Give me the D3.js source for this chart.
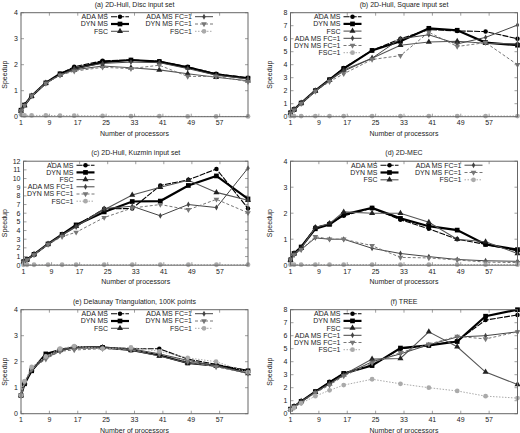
<!DOCTYPE html>
<html><head><meta charset="utf-8">
<script src="https://cdn.jsdelivr.net/npm/d3@7/dist/d3.min.js"></script>
<style>body{margin:0;background:#fff}svg{display:block}text{font-family:"Liberation Sans",Arial,sans-serif;fill:#222}</style>
</head><body><svg id="c" width="520" height="433"></svg>
<script>
// ---- data ----
const processors = [1, 2, 4, 8, 12, 16, 24, 32, 40, 48, 56, 65];
const xTickLabels = [1, 9, 17, 25, 33, 41, 49, 57];
const seriesNames = ["ADA MS", "DYN MS", "FSC", "ADA MS FC=1", "DYN MS FC=1", "FSC=1"];
const panelTitles = ["(a) 2D-Hull, Disc input set", "(b) 2D-Hull, Square input set",
  "(c) 2D-Hull, Kuzmin input set", "(d) 2D-MEC",
  "(e) Delaunay Triangulation, 100K points", "(f) TREE"];
const panelYMax = [4, 8, 12, 4, 4, 8];

const discSpeedup = [
  [0.25, 0.45, 0.8, 1.3, 1.65, 1.92, 2.15, 2.18, 2.13, 1.92, 1.65, 1.5],
  [0.25, 0.45, 0.8, 1.3, 1.65, 1.85, 2.1, 2.18, 2.12, 1.9, 1.63, 1.48],
  [0.22, 0.43, 0.8, 1.3, 1.6, 1.8, 1.95, 1.88, 1.8, 1.65, 1.52, 1.38],
  [0.25, 0.45, 0.8, 1.3, 1.6, 1.85, 2.05, 2.1, 2.08, 1.85, 1.6, 1.45],
  [0.22, 0.43, 0.8, 1.28, 1.6, 1.75, 1.9, 1.85, 1.98, 1.55, 1.55, 1.35],
  [0.08, 0.05, 0.05, 0.05, 0.04, 0.04, 0.03, 0.02, 0.02, 0.01, 0.01, 0.01]
];
const squareSpeedup = [
  [0.3, 0.55, 1.05, 2.0, 2.85, 3.75, 5.1, 6.0, 6.7, 6.6, 6.55, 6.0],
  [0.3, 0.55, 1.05, 2.0, 2.85, 3.7, 5.1, 5.8, 6.8, 6.65, 5.7, 5.5],
  [0.3, 0.55, 1.05, 2.0, 2.8, 3.6, 4.5, 5.5, 5.75, 5.8, 5.65, 5.6],
  [0.3, 0.55, 1.05, 2.0, 2.8, 3.5, 4.5, 6.0, 6.3, 5.6, 6.1, 7.05],
  [0.25, 0.5, 1.0, 1.95, 2.7, 3.3, 4.4, 4.7, 6.5, 5.4, 5.7, 4.0],
  [0.05, 0.05, 0.05, 0.05, 0.05, 0.05, 0.05, 0.05, 0.05, 0.05, 0.05, 0.05]
];
const kuzminSpeedup = [
  [0.4, 0.65, 1.25, 2.45, 3.55, 4.6, 6.5, 6.55, 9.2, 9.85, 11.1, 6.55],
  [0.4, 0.65, 1.25, 2.45, 3.55, 4.65, 6.15, 7.35, 7.4, 9.2, 10.3, 7.65],
  [0.4, 0.65, 1.25, 2.45, 3.5, 4.5, 6.4, 8.1, 9.0, 9.8, 8.4, 7.5],
  [0.35, 0.6, 1.2, 2.4, 3.45, 4.4, 6.55, 6.8, 5.7, 7.0, 6.65, 11.2],
  [0.35, 0.6, 1.2, 2.4, 3.3, 3.8, 5.5, 6.6, 7.0, 6.4, 7.6, 6.05],
  [0.05, 0.05, 0.05, 0.05, 0.05, 0.05, 0.05, 0.05, 0.05, 0.05, 0.05, 0.05]
];
const mecSpeedup = [
  [0.22, 0.45, 0.7, 1.45, 1.6, 1.9, 2.2, 1.75, 1.4, 1.0, 0.8, 0.55],
  [0.2, 0.45, 0.7, 1.4, 1.57, 1.95, 2.2, 1.8, 1.5, 1.35, 0.8, 0.6],
  [0.2, 0.45, 0.65, 1.45, 1.6, 2.05, 2.0, 2.0, 1.65, 1.0, 0.9, 0.45],
  [0.2, 0.4, 0.6, 1.05, 1.0, 1.0, 0.65, 0.45, 0.33, 0.22, 0.17, 0.15],
  [0.2, 0.4, 0.6, 1.1, 1.0, 1.0, 0.75, 0.3, 0.28, 0.2, 0.12, 0.1],
  [0.02, 0.02, 0.02, 0.02, 0.02, 0.02, 0.02, 0.02, 0.02, 0.02, 0.02, 0.02]
];
const delaunaySpeedup = [
  [0.7, 1.15, 1.65, 2.25, 2.45, 2.55, 2.55, 2.5, 2.5, 2.1, 1.9, 1.65],
  [0.7, 1.15, 1.65, 2.3, 2.45, 2.55, 2.55, 2.45, 2.25, 1.95, 1.85, 1.65],
  [0.7, 1.2, 1.7, 2.2, 2.45, 2.55, 2.55, 2.45, 2.22, 1.95, 1.85, 1.55],
  [0.7, 1.2, 1.7, 2.15, 2.4, 2.55, 2.55, 2.5, 2.3, 2.05, 1.85, 1.55],
  [0.7, 1.2, 1.7, 2.1, 2.4, 2.45, 2.5, 2.45, 2.3, 2.0, 1.8, 1.55],
  [0.7, 1.25, 1.8, 2.2, 2.5, 2.6, 2.5, 2.55, 2.4, 2.15, 2.0, 1.6]
];
const treeSpeedup = [
  [0.35, 0.55, 0.95, 1.7, 2.45, 3.1, 3.75, 5.0, 5.25, 5.6, 7.2, 7.6],
  [0.35, 0.55, 0.95, 1.7, 2.4, 3.1, 3.7, 5.05, 5.25, 5.55, 7.5, 8.0],
  [0.35, 0.55, 0.95, 1.65, 2.3, 3.0, 4.2, 4.25, 6.3, 5.15, 3.2, 2.25],
  [0.3, 0.5, 0.9, 1.65, 2.3, 2.95, 4.0, 4.6, 5.3, 5.9, 6.0, 6.3],
  [0.3, 0.5, 0.85, 1.6, 2.2, 2.9, 3.9, 4.7, 5.35, 5.95, 5.75, 6.3],
  [0.3, 0.45, 0.8, 1.35, 1.8, 2.2, 2.65, 2.3, 2.0, 1.75, 1.35, 1.2]
];
const panelData = [discSpeedup, squareSpeedup, kuzminSpeedup, mecSpeedup, delaunaySpeedup, treeSpeedup];

// ---- styles ----
const styles = [
  {stroke: "#000", width: 1.1, dash: "6,1.2", sym: d3.symbolCircle, size: 16, fill: "#000", rot: 0},
  {stroke: "#000", width: 2.2, dash: null, sym: d3.symbolSquare, size: 22, fill: "#000", rot: 0},
  {stroke: "#555", width: 1.1, dash: null, sym: d3.symbolTriangle, size: 16, fill: "#222", rot: 0},
  {stroke: "#444", width: 1.0, dash: null, sym: d3.symbolDiamond, size: 10, fill: "#444", rot: 0},
  {stroke: "#777", width: 1.0, dash: "3,2", sym: d3.symbolTriangle, size: 14, fill: "#777", rot: 180},
  {stroke: "#aaa", width: 1.0, dash: "1.5,1.5", sym: d3.symbolCircle, size: 18, fill: "#aaa", rot: 0}
];
const legendTwoCol = [true, false, false, true, true, false];

const svg = d3.select("#c");
const fs = 7;
const rowTop = [12.7, 161.2, 309.7];
const plotH = 104;

panelData.forEach((data, p) => {
  const col = p % 2, row = Math.floor(p / 2);
  const left = col === 0 ? (p === 2 ? 23.5 : 21) : 290.5;
  const right = col === 0 ? 248 : 517.5;
  const top = rowTop[row], bottom = top + plotH;
  const x = d3.scaleLinear().domain(d3.extent(processors)).range([left, right]);
  const y = d3.scaleLinear().domain([0, panelYMax[p]]).range([bottom, top]);
  const g = svg.append("g");

  // ticks
  const yTicks = d3.range(0, panelYMax[p] + 1);
  g.selectAll(".yt").data(yTicks).enter().append("text")
    .attr("x", left - 3).attr("y", d => y(d) + 2.4).attr("text-anchor", "end")
    .attr("font-size", fs).text(d => d);
  g.selectAll(".ytm").data(yTicks).enter().append("path")
    .attr("d", d => `M${left},${y(d)}h3M${right},${y(d)}h-3`).attr("stroke", "#777").attr("stroke-width", 0.7);
  g.selectAll(".xt").data(xTickLabels).enter().append("text")
    .attr("x", d => x(d)).attr("y", bottom + 8.5).attr("text-anchor", "middle")
    .attr("font-size", fs).text(d => d);
  g.selectAll(".xtm").data(xTickLabels).enter().append("path")
    .attr("d", d => `M${x(d)},${bottom}v-3M${x(d)},${top}v3`).attr("stroke", "#777").attr("stroke-width", 0.7);

  // titles
  g.append("text").attr("x", (left + right) / 2).attr("y", top - 6).attr("text-anchor", "middle")
    .attr("font-size", fs).text(panelTitles[p]);
  g.append("text").attr("x", (left + right) / 2).attr("y", bottom + 19).attr("text-anchor", "middle")
    .attr("font-size", fs).text("Number of processors");
  const ylx = col === 0 ? 6.5 : 272;
  g.append("text").attr("transform", `translate(${ylx},${(top + bottom) / 2 + 10}) rotate(-90)`)
    .attr("text-anchor", "middle").attr("font-size", fs).text("Speedup");

  // series
  const line = d3.line().x((d, i) => x(processors[i])).y(d => y(d));
  data.forEach((vals, s) => {
    const st = styles[s];
    g.append("path").attr("d", line(vals)).attr("fill", "none").attr("stroke", st.stroke)
      .attr("stroke-width", st.width).attr("stroke-dasharray", st.dash);
    g.selectAll(null).data(vals).enter().append("path")
      .attr("d", d3.symbol().type(st.sym).size(st.size))
      .attr("transform", (d, i) => `translate(${x(processors[i])},${y(d)}) rotate(${st.rot})`)
      .attr("fill", st.fill);
  });

  // legend
  seriesNames.forEach((name, s) => {
    const st = styles[s];
    let tx, ly;
    if (legendTwoCol[p]) {
      const c = Math.floor(s / 3), r = s % 3;
      tx = left + (c === 0 ? 87 : 171);
      ly = top + 4 + r * 7.3;
    } else {
      tx = left + 50;
      ly = top + 4 + s * 7.2;
    }
    g.append("text").attr("x", tx).attr("y", ly + 2.4).attr("text-anchor", "end")
      .attr("font-size", fs).text(name);
    g.append("path").attr("d", `M${tx + 3},${ly}H${tx + 21}`).attr("stroke", st.stroke)
      .attr("stroke-width", st.width).attr("stroke-dasharray", st.dash);
    g.append("path").attr("d", d3.symbol().type(st.sym).size(st.size))
      .attr("transform", `translate(${tx + 12},${ly}) rotate(${st.rot})`).attr("fill", st.fill);
  });

  // frame
  g.append("rect").attr("x", left).attr("y", top).attr("width", right - left).attr("height", plotH)
    .attr("fill", "none").attr("stroke", "#666").attr("stroke-width", 1);
});
</script></body></html>
